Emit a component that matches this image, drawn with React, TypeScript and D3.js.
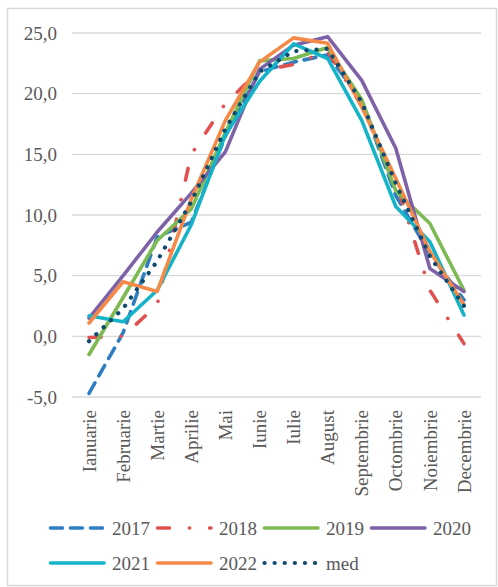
import React from "react";
import * as d3 from "d3";

// month labels on the x axis
const months = [
  "Ianuarie", "Februarie", "Martie", "Aprilie", "Mai", "Iunie",
  "Iulie", "August", "Septembrie", "Octombrie", "Noiembrie", "Decembrie",
];

// monthly values, one array per series
const y2017 = [-4.7, 0.3, 8.2, 9.4, 16.5, 21.8, 22.6, 23.2, 19.4, 11.6, 6.8, 3.0];
const y2018 = [-0.1, 0.0, 2.6, 15.0, 19.2, 21.9, 22.4, 23.5, 19.0, 12.8, 3.8, -0.6];
const y2019 = [-1.5, 3.2, 7.9, 10.5, 16.8, 22.7, 22.9, 23.8, 19.5, 12.0, 9.3, 3.8];
const y2020 = [1.5, 5.0, 8.6, 11.8, 15.2, 22.0, 24.0, 24.7, 21.1, 15.5, 5.6, 3.7];
const y2021 = [1.7, 1.2, 3.8, 9.2, 16.6, 21.0, 24.1, 22.9, 17.8, 10.7, 7.8, 1.75];
const y2022 = [1.1, 4.5, 3.7, 11.3, 17.8, 22.6, 24.6, 24.15, 18.9, 13.0, 7.0, 2.6];
const med = [-0.4, 2.3, 6.2, 11.1, 17.1, 21.8, 23.5, 23.7, 19.3, 12.6, 6.6, 2.5];

const yTicks = [-5, 0, 5, 10, 15, 20, 25];

const series = [
  { name: "2017", values: y2017, color: "#2E7EC1", dash: "12,8", width: 3.6 },
  { name: "2018", values: y2018, color: "#E0514F", dash: "12,20,0.1,20", width: 3.6 },
  { name: "2019", values: y2019, color: "#7DBA52", dash: null, width: 3.6 },
  { name: "2020", values: y2020, color: "#7E62A8", dash: null, width: 3.6 },
  { name: "2021", values: y2021, color: "#14B3C8", dash: null, width: 3.6 },
  { name: "2022", values: y2022, color: "#F58A48", dash: null, width: 3.6 },
  { name: "med", values: med, color: "#0D4A70", dash: "0.1,10", width: 4.2 },
];

const W = 498;
const H = 587;
const textColor = "#595959";
const font = "Liberation Serif, DejaVu Serif, serif";

export default function App() {
  const x = d3.scaleBand<string>().domain(months).range([72, 481]).padding(0);
  const cx = (m: string) => (x(m) as number) + x.bandwidth() / 2;
  const y = d3.scaleLinear().domain([-5, 25]).range([397, 33]);

  const line = d3
    .line<number>()
    .x((_, i) => cx(months[i]))
    .y((d) => y(d));

  return (
    <svg
      width={W}
      height={H}
      style={{ position: "absolute", left: 0, top: 0, background: "#fff", fontFamily: font }}
    >
      <rect x={7.5} y={8.5} width={489} height={577} fill="#fff" stroke="#D9D9D9" strokeWidth={1.5} />

      {/* grid + y labels */}
      {yTicks.map((t) => (
        <g key={t}>
          <line x1={72} x2={481} y1={y(t)} y2={y(t)} stroke="#D9D9D9" strokeWidth={1.3} />
          <text
            x={57}
            y={y(t)}
            dy="0.35em"
            textAnchor="end"
            fontSize={19}
            fill={textColor}
            style={{ fontFamily: font }}
          >
            {t.toFixed(1).replace(".", ",")}
          </text>
        </g>
      ))}

      {/* x labels */}
      {months.map((m) => (
        <text
          key={m}
          transform={`translate(${cx(m)},410) rotate(-90)`}
          dy="0.35em"
          textAnchor="end"
          fontSize={19}
          fill={textColor}
          style={{ fontFamily: font }}
        >
          {m}
        </text>
      ))}

      {/* series */}
      {series.map((s) => (
        <path
          key={s.name}
          d={line(s.values) as string}
          fill="none"
          stroke={s.color}
          strokeWidth={s.width}
          strokeDasharray={s.dash ?? undefined}
          strokeLinecap="round"
          strokeLinejoin="round"
        />
      ))}

      {/* legend */}
      {series.map((s, i) => {
        const col = i % 4;
        const row = Math.floor(i / 4);
        const x0 = 49 + col * 107;
        const ly = 528 + row * 35;
        return (
          <g key={s.name}>
            <line
              x1={x0 + 1.5}
              x2={x0 + 55}
              y1={ly}
              y2={ly}
              stroke={s.color}
              strokeWidth={s.width}
              strokeDasharray={s.dash ?? undefined}
              strokeLinecap="round"
            />
            <text
              x={x0 + 63}
              y={ly}
              dy="0.35em"
              fontSize={19}
              fill={textColor}
              style={{ fontFamily: font }}
            >
              {s.name}
            </text>
          </g>
        );
      })}
    </svg>
  );
}
